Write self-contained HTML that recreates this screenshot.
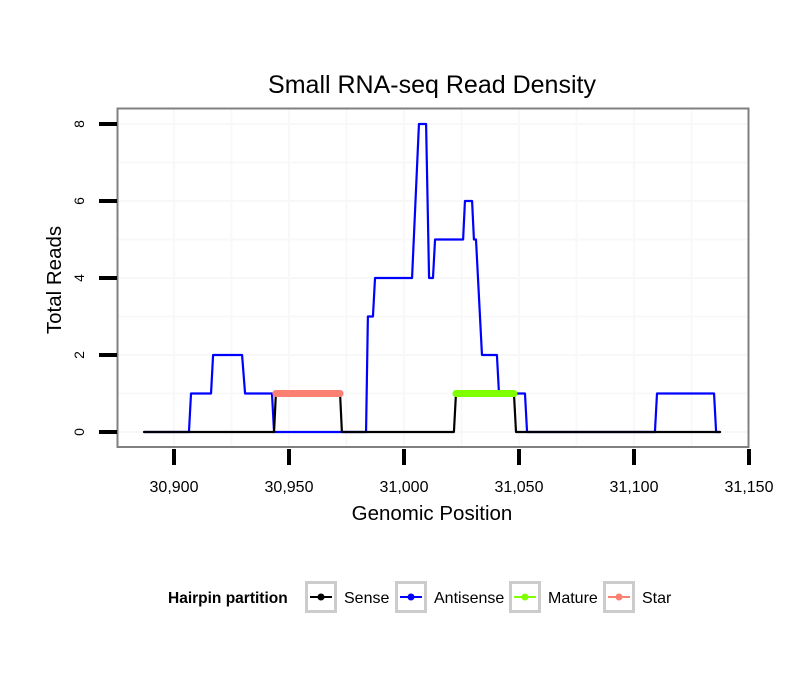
<!DOCTYPE html>
<html><head><meta charset="utf-8"><style>
body{margin:0;background:#fff;}
svg{display:block;font-family:"Liberation Sans",Arial,sans-serif;}
</style></head><body>
<svg id="chart" width="810" height="690">
<text x="432" y="93" font-size="25" text-anchor="middle">Small RNA-seq Read Density</text>
<g id="grid"></g>
<rect x="117.5" y="108.5" width="631" height="338.5" fill="none" stroke="#808080" stroke-width="2"/>
<g id="series"></g>
<g id="axes"></g>
<text x="432" y="520" font-size="20.5" text-anchor="middle">Genomic Position</text>
<text transform="translate(61,280) rotate(-90)" font-size="20.5" text-anchor="middle">Total Reads</text>
<g>
<text x="168" y="603" font-size="15.5" font-weight="bold">Hairpin partition</text>
<g id="legend-items"></g>
</g>
</svg>
<script>
const xTicks=[30900,30950,31000,31050,31100,31150];
const xTickLabels=["30,900","30,950","31,000","31,050","31,100","31,150"];
const yTicks=[0,2,4,6,8];
const antisenseX=[30887,30906.5,30907.4,30916.1,30917,30929.6,30930.9,30942.6,30943.5,30983.5,30984.3,30986.5,30987.4,31003.5,31006.5,31009.6,31010.9,31012.6,31013.5,31025.7,31026.5,31029.6,31030.4,31031.3,31033.9,31040.4,31041.3,31052.6,31053.5,31109.1,31110,31134.8,31135.7,31137.4];
const antisenseY=[0,0,1,1,2,2,1,1,0,0,3,3,4,4,8,8,4,4,5,5,6,6,5,5,2,2,1,1,0,0,1,1,0,0];
const senseX=[30887,30943.5,30944.3,30972.2,30973,31021.7,31022.6,31047.8,31048.7,31137.4];
const senseY=[0,0,1,1,0,0,1,1,0,0];
const starX=[30944.3,30972.2]; const starY=[1,1];
const matureX=[31022.6,31047.8]; const matureY=[1,1];
const legendLabels=["Sense","Antisense","Mature","Star"];
const legendColors=["#000000","#0000ff","#7fff00","#fa8072"];

const NS="http://www.w3.org/2000/svg";
const sx=v=>174+(v-30900)*2.3;
const sy=v=>432-v*38.5;
function mk(tag,attrs,parent){const e=document.createElementNS(NS,tag);for(const k in attrs)e.setAttribute(k,attrs[k]);parent.appendChild(e);return e;}
const grid=document.getElementById('grid');
for(let v=30875;v<=31150;v+=25){if(sx(v)>118&&sx(v)<748){const l=mk('line',{x1:sx(v),x2:sx(v),y1:109,y2:446,stroke:'#f8f8f8','stroke-width':2},grid);

}}
for(let v=0;v<=8;v++){const l=mk('line',{x1:118,x2:748,y1:sy(v),y2:sy(v),stroke:'#f8f8f8','stroke-width':2},grid);

}
const axes=document.getElementById('axes');
xTicks.forEach((v,i)=>{const t=mk('line',{x1:sx(v),x2:sx(v),y1:449,y2:465,stroke:'#000','stroke-width':4},axes);


const tx=mk('text',{x:sx(v),y:492,'font-size':16,'text-anchor':'middle'},axes);tx.textContent=xTickLabels[i];

});
yTicks.forEach(v=>{const t=mk('line',{x1:99,x2:117,y1:sy(v),y2:sy(v),stroke:'#000','stroke-width':4},axes);


const tx=mk('text',{transform:`translate(84,${sy(v)}) rotate(-90)`,'font-size':14,'text-anchor':'middle'},axes);tx.textContent=v;

});
const series=document.getElementById('series');
function line(xs,ys,color,w,name){const p=mk('polyline',{points:xs.map((x,i)=>sx(x)+','+sy(ys[i])).join(' '),fill:'none',stroke:color,'stroke-width':w,'stroke-linejoin':'round','stroke-linecap':'round'},series);

}
line(antisenseX,antisenseY,'#0000ff',2.2,'antisense-line');
line(senseX,senseY,'#000000',2.2,'sense-line');
line(starX,starY,'#fa8072',7,'star-line');
line(matureX,matureY,'#7fff00',7,'mature-line');
const li=document.getElementById('legend-items');
const boxX=[305,395,509,603];
legendLabels.forEach((lab,i)=>{const g=mk('g',{},li);


mk('rect',{x:boxX[i]+1.5,y:582.5,width:29,height:29,fill:'#fff',stroke:'#cccccc','stroke-width':3},g);
mk('line',{x1:boxX[i]+5,x2:boxX[i]+27,y1:597,y2:597,stroke:legendColors[i],'stroke-width':2},g);
mk('circle',{cx:boxX[i]+16,cy:597,r:3.5,fill:legendColors[i]},g);
const t=mk('text',{x:boxX[i]+39,y:603,'font-size':16},g);t.textContent=lab;});
</script>
</body></html>
